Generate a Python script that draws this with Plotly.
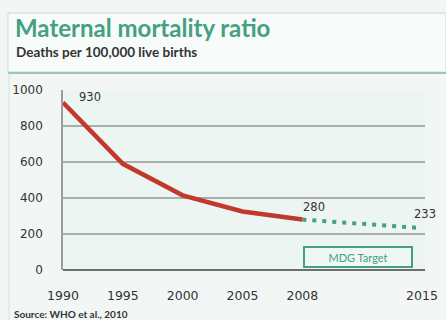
import plotly.graph_objects as go

# Data
slots = ["1990", "1995", "2000", "2005", "2008", " ", "2015"]
hist_years = ["1990", "1995", "2000", "2005", "2008"]
hist_values = [930, 590, 415, 325, 280]
target_years = ["2008", "2015"]
target_values = [280, 233]
y_ticks = [0, 200, 400, 600, 800, 1000]
tick_labels_x = ["1990", "1995", "2000", "2005", "2008", "", "2015"]
title = "Maternal mortality ratio"
subtitle = "Deaths per 100,000 live births"
source = "Source: WHO et al., 2010"
target_label = "MDG Target"

RED = "#c0392b"
GREEN = "#45a07f"
TEXT = "#333333"
FONT = "Lato"
NUMFONT = "DejaVu Sans"

W, H = 446, 320
L, R, T, B = 63, 21, 90, 50
PW, PH = W - L - R, H - T - B


def px(x):
    return (x - L) / PW


def py(y):
    return (H - B - y) / PH


def idx(year):
    return slots.index(year)


fig = go.Figure()
fig.add_trace(go.Scatter(x=target_years, y=target_values, mode="lines",
                         line=dict(color=GREEN, width=4, dash="4px,6px"),
                         hoverinfo="skip"))
fig.add_trace(go.Scatter(x=hist_years, y=hist_values, mode="lines",
                         line=dict(color=RED, width=4.5),
                         hoverinfo="skip"))

lab_font = dict(family=NUMFONT, size=11.5, color=TEXT)
fig.add_annotation(x=idx(hist_years[0]), y=hist_values[0], text=str(hist_values[0]),
                   xanchor="left", yanchor="middle", xshift=14, yshift=6,
                   showarrow=False, font=lab_font)
fig.add_annotation(x=idx(hist_years[-1]), y=hist_values[-1], text=str(hist_values[-1]),
                   xanchor="left", yanchor="bottom", xshift=-1, yshift=4,
                   showarrow=False, font=lab_font)
fig.add_annotation(x=idx(target_years[-1]), y=target_values[-1], text=str(target_values[-1]),
                   xanchor="center", yanchor="bottom", xshift=3, yshift=5,
                   showarrow=False, font=lab_font)

# MDG Target box
fig.add_annotation(x=px(358), y=py(257), xref="paper", yref="paper",
                   xanchor="center", yanchor="middle",
                   text=target_label, showarrow=False,
                   font=dict(family=FONT, size=11, color=GREEN),
                   bordercolor=GREEN, borderwidth=2, borderpad=2,
                   bgcolor="#eef7f3", width=102, height=14)

# Title, subtitle, source
fig.add_annotation(text="<b>" + title + "</b>", x=px(13), y=py(28),
                   xref="paper", yref="paper", xanchor="left", yanchor="middle",
                   showarrow=False, font=dict(family=FONT, size=24, color=GREEN))
fig.add_annotation(text="<b>" + subtitle + "</b>", x=px(14), y=py(52),
                   xref="paper", yref="paper", xanchor="left", yanchor="middle",
                   showarrow=False, font=dict(family=FONT, size=13.5, color=TEXT))
fig.add_annotation(text="<b>" + source + "</b>", x=px(12), y=py(314),
                   xref="paper", yref="paper", xanchor="left", yanchor="middle",
                   showarrow=False, font=dict(family=FONT, size=10, color=TEXT))

fig.update_layout(
    width=W, height=H,
    margin=dict(l=L, r=R, t=T, b=B, autoexpand=False),
    paper_bgcolor="#f2f7f5", plot_bgcolor="#edf5f2",
    showlegend=False,
    shapes=[
        dict(type="rect", xref="paper", yref="paper",
             x0=px(8), x1=px(446), y0=py(72), y1=py(13),
             line=dict(color="#c9dcd6", width=1), fillcolor="#f7fbf9", layer="below"),
        dict(type="line", xref="paper", yref="paper",
             x0=px(8), x1=px(446), y0=py(73), y1=py(73),
             line=dict(color="#9cc6b8", width=2)),
        dict(type="line", xref="paper", yref="paper",
             x0=px(9), x1=px(9), y0=py(73), y1=py(320),
             line=dict(color="#d3e2dd", width=1)),
    ],
    xaxis=dict(type="category", categoryorder="array", categoryarray=slots,
               tickvals=slots, ticktext=tick_labels_x,
               range=[0, 6.05], showgrid=False, zeroline=False,
               showline=False, ticks="", ticklabelstandoff=16,
               tickfont=dict(family=NUMFONT, size=12.5, color=TEXT)),
    yaxis=dict(range=[0, 1000], tickvals=y_ticks, showgrid=True,
               gridcolor="#a8aeac", gridwidth=1.5, zeroline=True,
               zerolinecolor="#6b6f6e", zerolinewidth=2,
               showline=True, linecolor="#9a9f9d", linewidth=1.5,
               ticks="", ticklabelstandoff=16,
               tickfont=dict(family=NUMFONT, size=12, color=TEXT)),
)

fig.write_html("out.html", config={"displayModeBar": False},
               post_script="document.body.style.margin='0';document.body.style.overflow='hidden';")
